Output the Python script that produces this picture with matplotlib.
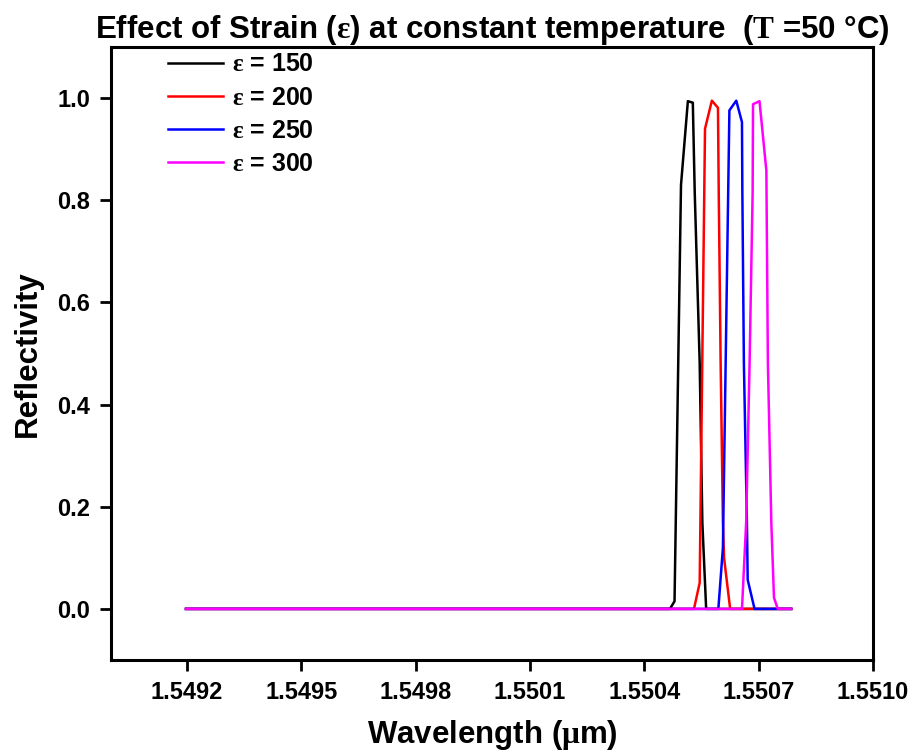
import matplotlib
matplotlib.use("Agg")
import matplotlib.pyplot as plt
import numpy as np

plt.rcParams['font.family'] = ['Liberation Sans', 'DejaVu Sans']
plt.rcParams['font.weight'] = 'bold'
plt.rcParams['mathtext.fontset'] = 'custom'
plt.rcParams['mathtext.rm'] = 'Liberation Serif'
plt.rcParams['mathtext.it'] = 'Liberation Serif:italic'
plt.rcParams['mathtext.bf'] = 'Liberation Serif:bold'

# ---- data (wavelength in um, reflectivity) ----
wl_150 = [1.549197, 1.550467, 1.550479, 1.550496, 1.550514, 1.550527, 1.550532, 1.550545, 1.550552, 1.550562, 1.550785]
r_150 = [0.0, 0.0, 0.015, 0.83, 0.994, 0.991, 0.816, 0.482, 0.169, 0.0, 0.0]

wl_200 = [1.549197, 1.550530, 1.550545, 1.550559, 1.550577, 1.550593, 1.550595, 1.550600, 1.550606, 1.550609, 1.550625, 1.550785]
r_200 = [0.0, 0.0, 0.051, 0.94, 0.995, 0.981, 0.816, 0.482, 0.169, 0.10, 0.0, 0.0]

wl_250 = [1.549197, 1.550594, 1.550606, 1.550623, 1.550641, 1.550656, 1.550657, 1.550661, 1.550669, 1.550671, 1.550689, 1.550785]
r_250 = [0.0, 0.0, 0.12, 0.976, 0.995, 0.953, 0.816, 0.482, 0.169, 0.057, 0.0, 0.0]

wl_300 = [1.549197, 1.550656, 1.550667, 1.550676, 1.550684, 1.550685, 1.550702, 1.550720, 1.550724, 1.550733, 1.550740, 1.550750, 1.550785]
r_300 = [0.0, 0.0, 0.169, 0.482, 0.816, 0.988, 0.994, 0.858, 0.482, 0.169, 0.022, 0.0, 0.0]

series_labels = ['150', '200', '250', '300']
series_colors = ['black', 'red', 'blue', 'magenta']

xticks = [1.5492, 1.5495, 1.5498, 1.5501, 1.5504, 1.5507, 1.5510]
yticks = [0.0, 0.2, 0.4, 0.6, 0.8, 1.0]

fig = plt.figure(figsize=(9.14, 7.56), dpi=100)
ax = fig.add_axes([0.1214, 0.127, 0.8338, 0.8108])

data = [(wl_150, r_150), (wl_200, r_200), (wl_250, r_250), (wl_300, r_300)]
for (wl, r), lab, c in zip(data, series_labels, series_colors):
    ax.plot(wl, r, color=c, lw=1.8, label=r'$\mathrm{ε}$ = ' + lab)

ax.set_xlim(1.5490, 1.5510)
ax.set_ylim(-0.1, 1.1)
ax.set_xticks(xticks)
ax.set_xticklabels(['%.4f' % v for v in xticks])
ax.set_yticks(yticks)
ax.set_yticklabels(['%.1f' % v for v in yticks])

for s in ['top', 'right', 'bottom', 'left']:
    ax.spines[s].set_linewidth(2.2)
ax.tick_params(axis='both', direction='out', length=8, width=2, labelsize=17, pad=7)
for lbl in ax.get_xticklabels() + ax.get_yticklabels():
    lbl.set_fontweight('bold')

ax.set_xlabel(r'Wavelength ($\mathrm{\mu}$m)', fontsize=22.5, fontweight='bold', labelpad=10)
ax.set_ylabel('Reflectivity', fontsize=22.5, fontweight='bold', labelpad=10)
ax.set_title(r'Effect of Strain ($\mathrm{ε}$) at constant temperature  ($\mathrm{T}$ =50 °C)',
             fontsize=22.5, fontweight='bold', pad=4)

leg = ax.legend(loc='upper left', bbox_to_anchor=(0.045, 1.028), frameon=False,
                prop={'size': 18, 'weight': 'bold'}, handlelength=2.2,
                labelspacing=0.37, handletextpad=0.35)

fig.savefig('out.png', dpi=100)
